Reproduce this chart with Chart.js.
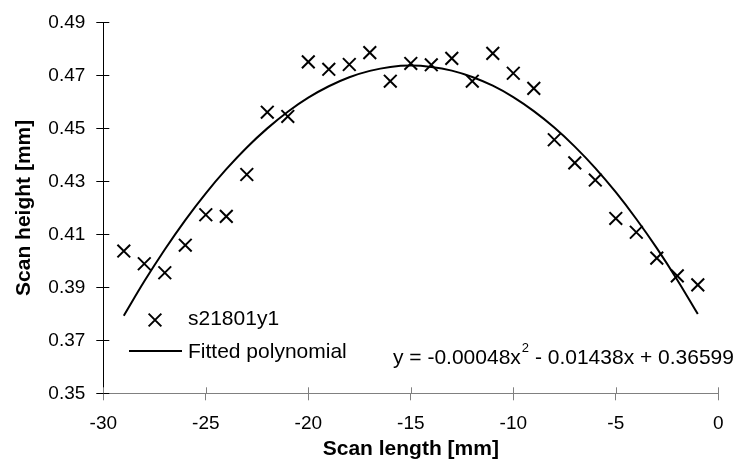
<!DOCTYPE html>
<html>
<head>
<meta charset="utf-8">
<script src="https://cdn.jsdelivr.net/npm/chart.js@4/dist/chart.umd.min.js"></script>
<style>
  body { margin: 0; background: #fff; }
  #chart { display: block; }
</style>
</head>
<body>
<canvas id="chart" width="739" height="462"></canvas>
<script>
// data
var scanLength = [-29, -28, -27, -26, -25, -24, -23, -22, -21, -20, -19, -18, -17, -16, -15,
    -14, -13, -12, -11, -10, -9, -8, -7, -6, -5, -4, -3, -2, -1];
var scanHeight = [0.4037, 0.3989, 0.3955, 0.4059, 0.4174, 0.4168, 0.4326, 0.4561, 0.4545, 0.4751,
    0.4723, 0.4741, 0.4786, 0.4678, 0.4745, 0.4740, 0.4764, 0.4678, 0.4783, 0.4708,
    0.4651, 0.4457, 0.4370, 0.4305, 0.4160, 0.4108, 0.4010, 0.3943, 0.3909];
// fitted polynomial, y at each scan position
var fittedHeight = [0.3793, 0.3923, 0.4043, 0.4154, 0.4255, 0.4346, 0.4428, 0.4500, 0.4563, 0.4616,
    0.4659, 0.4693, 0.4717, 0.4732, 0.4737, 0.4732, 0.4718, 0.4694, 0.4661, 0.4618,
    0.4565, 0.4503, 0.4431, 0.4350, 0.4259, 0.4158, 0.4048, 0.3928, 0.3799];
var xTicks = [-30, -25, -20, -15, -10, -5, 0];
var yTicks = [0.35, 0.37, 0.39, 0.41, 0.43, 0.45, 0.47, 0.49];

var seriesName = "s21801y1";
var fitName = "Fitted polynomial";

var FONT = "'Liberation Sans', Arial, sans-serif";

var pointsData = scanLength.map(function (x, i) { return { x: x, y: scanHeight[i] }; });
var fitData = scanLength.map(function (x, i) { return { x: x, y: fittedHeight[i] }; });

// ticks crossing the axis (inner half)
var innerTicks = {
    id: "innerTicks",
    afterDraw: function (chart) {
        var ctx = chart.ctx;
        var xs = chart.scales.x, ys = chart.scales.y;
        ctx.save();
        ctx.lineWidth = 1;
        ctx.strokeStyle = "#000";
        yTicks.forEach(function (v) {
            var py = Math.round(ys.getPixelForValue(v)) + 0.5;
            ctx.beginPath();
            ctx.moveTo(xs.left, py);
            ctx.lineTo(xs.left + 6, py);
            ctx.stroke();
        });
        ctx.strokeStyle = "#808080";
        xTicks.forEach(function (v) {
            var px = Math.round(xs.getPixelForValue(v)) + 0.5;
            ctx.beginPath();
            ctx.moveTo(px, ys.bottom);
            ctx.lineTo(px, ys.bottom - 6);
            ctx.stroke();
        });
        ctx.restore();
    }
};

// legend and equation inside the plot
var notes = {
    id: "notes",
    afterDraw: function (chart) {
        var ctx = chart.ctx;
        ctx.save();
        ctx.fillStyle = "#000";
        ctx.strokeStyle = "#000";
        ctx.lineWidth = 2;
        Chart.helpers.drawPoint(ctx, { pointStyle: "crossRot", radius: 9, rotation: 0, borderWidth: 2 }, 155, 320);
        ctx.beginPath();
        ctx.moveTo(129, 351);
        ctx.lineTo(182, 351);
        ctx.stroke();
        ctx.font = "21px " + FONT;
        ctx.textBaseline = "middle";
        ctx.textAlign = "left";
        ctx.fillText(seriesName, 188, 319);
        ctx.fillText(fitName, 188, 352);

        var eqY = 358;
        var x0 = 393;
        var p1 = "y = -0.00048x";
        ctx.fillText(p1, x0, eqY);
        var w1 = ctx.measureText(p1).width;
        ctx.font = "13px " + FONT;
        ctx.fillText("2", x0 + w1 + 1, eqY - 10);
        var w2 = ctx.measureText("2").width;
        ctx.font = "21px " + FONT;
        ctx.fillText(" - 0.01438x + 0.36599", x0 + w1 + w2 + 1, eqY);
        ctx.restore();
    }
};

new Chart(document.getElementById("chart"), {
    type: "scatter",
    data: {
        datasets: [
            {
                label: seriesName,
                data: pointsData,
                showLine: false,
                pointStyle: "crossRot",
                pointRadius: 9,
                pointHoverRadius: 9,
                pointBorderWidth: 2,
                borderColor: "#000",
                backgroundColor: "#000"
            },
            {
                label: fitName,
                data: fitData,
                showLine: true,
                pointRadius: 0,
                borderWidth: 2,
                borderColor: "#000",
                tension: 0.4,
                fill: false
            }
        ]
    },
    options: {
        responsive: false,
        animation: false,
        clip: false,
        layout: { padding: { left: 0, right: 20.7, top: 19.5, bottom: 0 } },
        plugins: {
            legend: { display: false },
            tooltip: { enabled: false }
        },
        scales: {
            x: {
                type: "linear",
                min: -30,
                max: 0,
                afterFit: function (s) { s.height = 68.7; },
                afterBuildTicks: function (s) { s.ticks = xTicks.map(function (v) { return { value: v }; }); },
                border: { display: true, color: "#808080", width: 1 },
                grid: { display: true, drawOnChartArea: false, drawTicks: true, tickLength: 7, color: "#808080" },
                ticks: {
                    padding: 12,
                    color: "#000",
                    font: { family: FONT, size: 19 },
                    callback: function (v) { return String(v); }
                },
                title: {
                    display: true,
                    text: "Scan length [mm]",
                    color: "#000",
                    font: { family: FONT, size: 21, weight: "bold" },
                    padding: { top: 0, bottom: 0 }
                }
            },
            y: {
                type: "linear",
                min: 0.35,
                max: 0.49,
                afterFit: function (s) { s.width = 103.3; },
                afterBuildTicks: function (s) { s.ticks = yTicks.map(function (v) { return { value: v }; }); },
                border: { display: true, color: "#000", width: 1 },
                grid: { display: true, drawOnChartArea: false, drawTicks: true, tickLength: 7, color: "#000" },
                ticks: {
                    padding: 11,
                    color: "#000",
                    font: { family: FONT, size: 19 },
                    callback: function (v) { return v.toFixed(2); }
                },
                title: {
                    display: true,
                    text: "Scan height [mm]",
                    color: "#000",
                    font: { family: FONT, size: 21, weight: "bold" },
                    padding: { top: 12, bottom: 0 }
                }
            }
        }
    },
    plugins: [innerTicks, notes]
});
</script>
</body>
</html>
